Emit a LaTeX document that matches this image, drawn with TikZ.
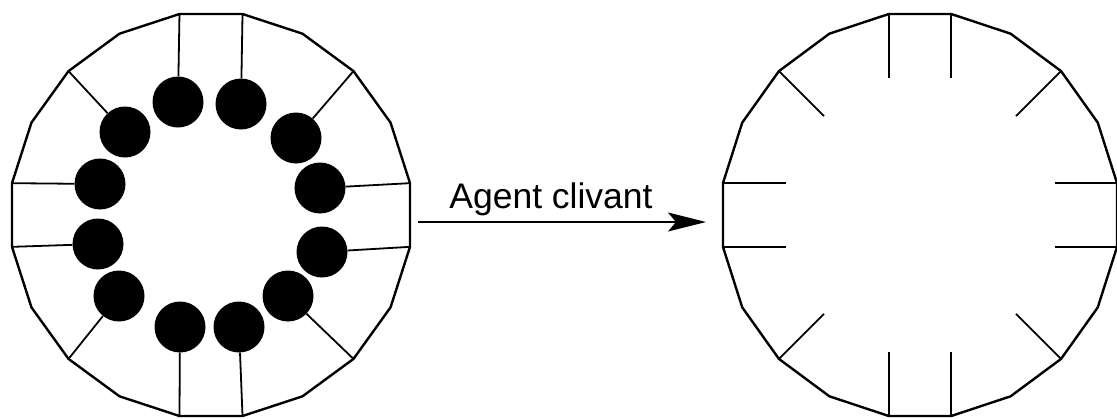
\documentclass[tikz,border=0pt]{standalone}
\usepackage{fontspec}
\setmainfont{Liberation Sans}
\usetikzlibrary{arrows.meta,calc}
\begin{document}
\begin{tikzpicture}[x=1pt,y=-1pt,
  poly/.style={line width=2.4pt,line join=miter},
  spoke/.style={line width=1.8pt},
  ball/.style={circle,fill=black,draw=none,minimum size=51pt,inner sep=0pt},
  arrowline/.style={line width=1.8pt,-{Stealth[length=38pt,width=19pt,inset=8pt]}},
  label/.style={font=\fontsize{35.5}{40}\selectfont,anchor=base,inner sep=0pt}]
\useasboundingbox (0,0) rectangle (1117,418);

% vertices of the two 20-sided rims
\foreach \k in {0,...,19}{
  \pgfmathsetmacro\a{9+18*\k}
  \coordinate (L\k) at ({211+201.5*cos(\a)},{215-203.5*sin(\a)});
  \coordinate (R\k) at ({920+199.5*cos(\a)},{215-203.5*sin(\a)});
}
\draw[poly] (L0) \foreach \k in {1,...,19}{ -- (L\k)} -- cycle;
\draw[poly] (R0) \foreach \k in {1,...,19}{ -- (R\k)} -- cycle;

% left: spokes holding the balls
\node[ball] (b4)  at (241,104) {};
\node[ball] (b5)  at (178,102) {};
\node[ball] (b2)  at (296,138) {};
\node[ball] (b7)  at (125,132) {};
\node[ball] (b0)  at (320,188) {};
\node[ball] (b19) at (322,252) {};
\node[ball] (b9)  at (100,184) {};
\node[ball] (b10) at (98,244) {};
\node[ball] (b12) at (119,296) {};
\node[ball] (b14) at (180,327) {};
\node[ball] (b15) at (239,327) {};
\node[ball] (b17) at (288,296) {};
\foreach \k in {0,2,4,5,7,9,10,12,14,15,17,19}
  \draw[spoke] (L\k) -- (b\k);

% right: bare spokes after cleavage
\coordinate (e4)  at ($(R4)+(0,64)$);
\coordinate (e5)  at ($(R5)+(0,64)$);
\coordinate (e14) at ($(R14)+(0,-64)$);
\coordinate (e15) at ($(R15)+(0,-64)$);
\coordinate (e0)  at ($(R0)+(-62,0)$);
\coordinate (e19) at ($(R19)+(-62,0)$);
\coordinate (e9)  at ($(R9)+(63,0)$);
\coordinate (e10) at ($(R10)+(63,0)$);
\coordinate (e2)  at ($(R2)+(-45,45)$);
\coordinate (e7)  at ($(R7)+(45,45)$);
\coordinate (e12) at ($(R12)+(45,-45)$);
\coordinate (e17) at ($(R17)+(-45,-45)$);
\foreach \k in {0,2,4,5,7,9,10,12,14,15,17,19}
  \draw[spoke] (R\k) -- (e\k);

% reaction arrow
\coordinate (aS) at (418,222);
\coordinate (aE) at (706,222);
\draw[arrowline] (aS) -- (aE);
\node[label] (lbl) at (551,208) {Agent clivant};
\end{tikzpicture}
\end{document}
